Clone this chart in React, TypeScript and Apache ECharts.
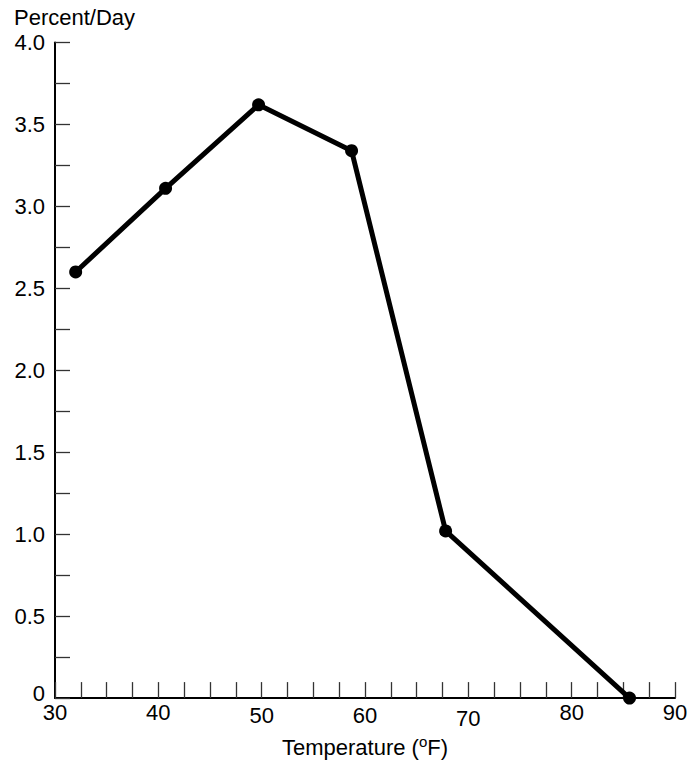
import React, { useEffect, useRef } from "react";
import * as echarts from "echarts";

const temperatureF = [32, 40.7, 49.7, 58.7, 67.8, 85.6];
const percentPerDay = [2.6, 3.11, 3.62, 3.34, 1.02, 0.0];
const xLabelValues = [30, 40, 50, 60, 70, 80, 90];
const yLabelValues = [0, 0.5, 1, 1.5, 2, 2.5, 3, 3.5, 4];
const xLabelShift: Record<number, string> = { 30: "a", 40: "a", 50: "b", 60: "b", 70: "c", 80: "a", 90: "a" };

const FONT = "'Liberation Sans', Arial, Helvetica, sans-serif";
const FS = 22;

export default function App() {
  const ref = useRef<HTMLDivElement>(null);
  useEffect(() => {
    if (!ref.current) return;
    const chart = echarts.init(ref.current, null, { renderer: "svg" });
    const data = temperatureF.map((t, i) => [t, percentPerDay[i]]);
    chart.setOption({
      animation: false,
      backgroundColor: "#ffffff",
      textStyle: { fontFamily: FONT },
      grid: { left: 55, right: 22, top: 42.5, bottom: 60.5, containLabel: false },
      xAxis: {
        type: "value",
        min: 30,
        max: 90,
        interval: 2.5,
        name: "{n|Temperature (}{s|o}{n|F)}",
        nameLocation: "middle",
        nameGap: 33,
        nameTextStyle: {
          rich: {
            n: { fontSize: FS, fontFamily: FONT, color: "#000", verticalAlign: "bottom", lineHeight: 24 },
            s: { fontSize: 15, fontFamily: FONT, color: "#000", verticalAlign: "top", lineHeight: 24, padding: [0, 0, 10, 0] },
          },
        },
        splitLine: { show: false },
        axisLine: { show: true, onZero: false, lineStyle: { color: "#000", width: 2 } },
        axisTick: { show: true, inside: true, length: 16, lineStyle: { color: "#333", width: 1.3 } },
        axisLabel: {
          color: "#000",
          fontSize: FS,
          fontFamily: FONT,
          margin: 3,
          showMinLabel: true,
          showMaxLabel: true,
          formatter: (v: number) => {
            const hit = xLabelValues.find((x) => Math.abs(x - v) < 1e-6);
            if (hit === undefined) return "";
            return `{${xLabelShift[hit]}|${hit}}`;
          },
          rich: {
            a: { fontSize: FS, fontFamily: FONT, color: "#000", padding: [0, 0, 0, 0] },
            b: { fontSize: FS, fontFamily: FONT, color: "#000", padding: [3, 0, 0, 0] },
            c: { fontSize: FS, fontFamily: FONT, color: "#000", padding: [6, 0, 0, 0] },
          },
        },
      },
      yAxis: {
        type: "value",
        min: 0,
        max: 4,
        interval: 0.25,
        splitLine: { show: false },
        axisLine: { show: true, onZero: false, lineStyle: { color: "#000", width: 2 } },
        axisTick: { show: true, inside: true, length: 15, lineStyle: { color: "#333", width: 1.3 } },
        axisLabel: {
          color: "#000",
          fontSize: FS,
          fontFamily: FONT,
          margin: 10,
          showMinLabel: true,
          showMaxLabel: true,
          formatter: (v: number) => {
            const hit = yLabelValues.find((y) => Math.abs(y - v) < 1e-6);
            if (hit === undefined) return "";
            return hit === 0 ? "{z|0}" : hit.toFixed(1);
          },
          rich: {
            z: { fontSize: FS, fontFamily: FONT, color: "#000", padding: [0, 0, 10, 0] },
          },
        },
      },
      graphic: [
        {
          type: "text",
          left: 14,
          top: 6,
          style: { text: "Percent/Day", fontSize: FS, fontFamily: FONT, fill: "#000" },
        },
      ],
      series: [
        {
          type: "line",
          data,
          symbol: "circle",
          symbolSize: 13,
          itemStyle: { color: "#000" },
          lineStyle: { color: "#000", width: 5 },
          clip: false,
        },
      ],
    });
    return () => chart.dispose();
  }, []);
  return (
    <div
      ref={ref}
      style={{ position: "absolute", left: 0, top: 0, width: 697, height: 764, background: "#fff" }}
    />
  );
}
